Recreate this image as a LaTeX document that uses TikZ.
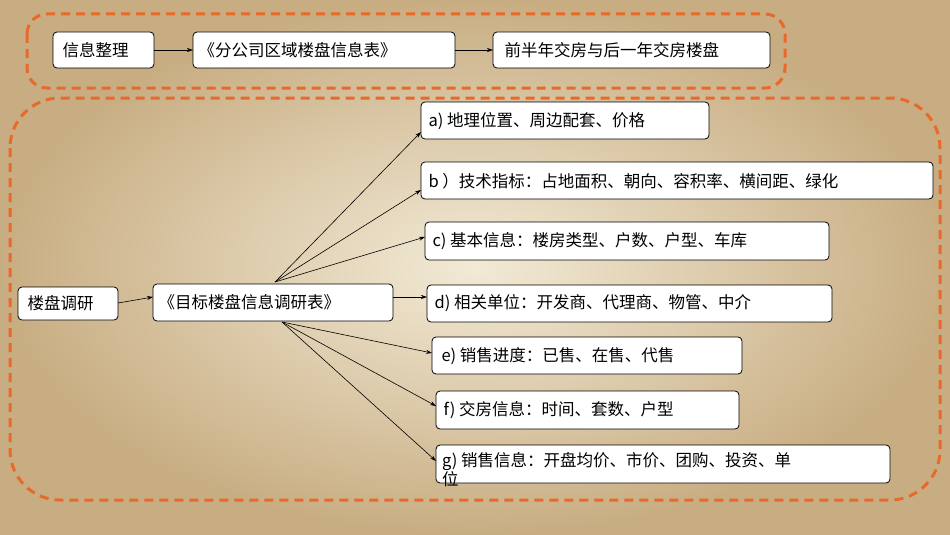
\documentclass[tikz,border=0pt]{standalone}
\usepackage{fontspec}
\newfontfamily\cjk{Noto Sans CJK SC}
\usetikzlibrary{arrows.meta}
\definecolor{dashor}{HTML}{E8692A}
\definecolor{paperin}{HTML}{F2EAD6}
\definecolor{paperout}{HTML}{C8AD82}
\tikzset{
  box/.style={draw=black, fill=white, rounded corners=4pt, line width=0.8pt, inner sep=0pt, anchor=north west},
  dbox/.style={draw=dashor, line width=3pt, dash pattern=on 9pt off 6pt},
  arr/.style={-{Stealth[length=6pt,width=4pt]}, line width=0.6pt},
  txt/.style={font=\cjk\fontsize{16.5}{19}\selectfont, anchor=west}
}
\begin{document}
\begin{tikzpicture}[x=1pt,y=-1pt]
\useasboundingbox (0,0) rectangle (950,535);
\shade[inner color=paperin, outer color=paperout] (0,0) rectangle (950,535);
\draw[dbox, rounded corners=20pt] (27,14) rectangle (785,88);
\draw[dbox, rounded corners=50pt] (10,98) rectangle (940,500);
% top row
\draw[box] (53,32) rectangle (154,68); \node[txt] (n1) at (59,50) {信息整理};
\coordinate (n1r) at (154,50);
\draw[box] (193,32) rectangle (455,68); \node[txt] (n2) at (195,50) {《分公司区域楼盘信息表》};
\coordinate (n2l) at (193,50); \coordinate (n2r) at (455,50);
\draw[box] (493,32) rectangle (770,68); \node[txt] (n3) at (501,50) {前半年交房与后一年交房楼盘};
\coordinate (n3l) at (493,50);
\draw[arr] (n1r) -- (n2l);
\draw[arr] (n2r) -- (n3l);
% left
\draw[box] (18,287) rectangle (118,320); \node[txt] (l1) at (24,303) {楼盘调研};
\coordinate (l1r) at (118,303);
\draw[box] (153,284) rectangle (393,321); \node[txt] (l2) at (155,302) {《目标楼盘信息调研表》};
\coordinate (l2l) at (153,297); \coordinate (l2r) at (393,297);
\coordinate (top) at (275,282); \coordinate (bot) at (282,322);
\draw[arr] (l1r) -- (l2l);
% right
\draw[box] (421,102) rectangle (709,139); \node[txt] (a) at (425,121) {a) 地理位置、周边配套、价格};
\draw[box] (421,162) rectangle (933,199); \node[txt] (b) at (425,181) {b ）技术指标：占地面积、朝向、容积率、横间距、绿化};
\draw[box] (425,222) rectangle (829,260); \node[txt] (c) at (429,241) {c) 基本信息：楼房类型、户数、户型、车库};
\draw[box] (427,285) rectangle (832,322); \node[txt] (d) at (431,303) {d) 相关单位：开发商、代理商、物管、中介};
\draw[box] (432,337) rectangle (742,374); \node[txt] (e) at (438,356) {e) 销售进度：已售、在售、代售};
\draw[box] (436,391) rectangle (739,429); \node[txt] (f) at (440,410) {f) 交房信息：时间、套数、户型};
\draw[box] (436,445) rectangle (890,483);
\node[txt, anchor=north west, align=left, inner sep=0pt] (g) at (442,452) {g) 销售信息：开盘均价、市价、团购、投资、单\\位};
\draw[arr] (top) -- (421,132);
\draw[arr] (top) -- (421,190);
\draw[arr] (top) -- (425,237);
\draw[arr] (l2r) -- (427,297);
\draw[arr] (bot) -- (432,353);
\draw[arr] (bot) -- (436,406);
\draw[arr] (bot) -- (436,461);
\end{tikzpicture}
\end{document}
